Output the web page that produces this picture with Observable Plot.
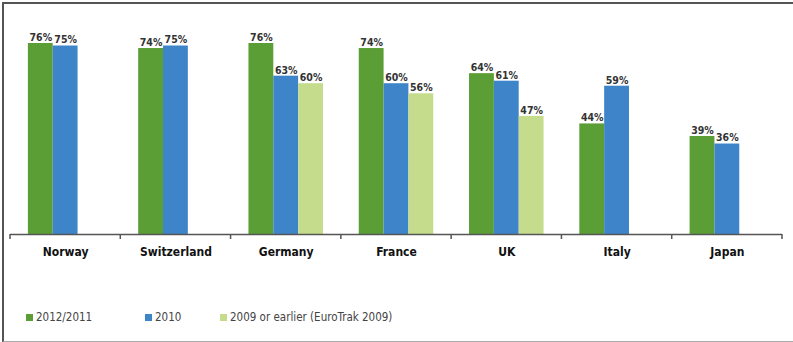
<!DOCTYPE html>
<html>
<head>
<meta charset="utf-8">
<script src="https://cdn.jsdelivr.net/npm/d3@7"></script>
<script src="https://cdn.jsdelivr.net/npm/@observablehq/plot@0.6"></script>
<style>
  html, body { margin: 0; padding: 0; background: #fff; }
  #wrap {
    position: relative; box-sizing: border-box;
    border-top: 2px solid #555; border-left: 2px solid #555; border-bottom: 1px solid #aaa;
    margin-top: 2px; margin-left: 2px; width: 791px; height: 340px;
    font-family: "Liberation Sans Narrow", "DejaVu Sans Condensed", "Arial Narrow", sans-serif;
  }
  #chart { position: absolute; left: -4px; top: -4px; }
  #legend { position: absolute; top: 306px; left: 0; font-size: 11.5px; color: #444; white-space: nowrap; }
  .item { position: absolute; display: flex; align-items: center; }
  .sw { width: 7px; height: 7px; margin-right: 3px; }
</style>
</head>
<body>
<div id="wrap"><div id="chart"></div><div id="legend"></div></div>
<script>
const countries = ["Norway", "Switzerland", "Germany", "France", "UK", "Italy", "Japan"];
const series = ["2012/2011", "2010", "2009 or earlier (EuroTrak 2009)"];
const v2012 = [76, 74, 76, 74, 64, 44, 39];
const v2010 = [75, 75, 63, 60, 61, 59, 36];
const v2009 = [null, null, 60, 56, 47, null, null];
const colors = ["#5b9e36", "#3d85c8", "#c4dc8b"];

const data = [];
[v2012, v2010, v2009].forEach((vals, si) => {
  vals.forEach((v, ci) => {
    if (v != null) data.push({country: countries[ci], series: series[si], value: v});
  });
});

const font = '"Liberation Sans Narrow", "DejaVu Sans Condensed", "Arial Narrow", sans-serif';

const plot = Plot.plot({
  width: 793,
  height: 270,
  marginLeft: 10,
  marginRight: 11,
  marginTop: 43,
  marginBottom: 36,
  fx: {domain: countries, paddingInner: 0, paddingOuter: 0, round: false, label: null},
  x: {domain: series, paddingInner: 0, paddingOuter: 0.72, round: false, axis: null},
  y: {domain: [0, 76], axis: null},
  color: {domain: series, range: colors},
  style: {fontFamily: font, overflow: "visible", background: "transparent"},
  marks: [
    Plot.barY(data, {fx: "country", x: "series", y: "value", fill: "series"}),
    Plot.text(data, {fx: "country", x: "series", y: "value", text: d => d.value + "%",
      dy: -6, fontWeight: "bold", fontSize: 10.5, fill: "#333"}),
    Plot.ruleY([0], {stroke: "#555", strokeWidth: 1.5}),
    Plot.axisFx({anchor: "bottom", tickSize: 0, tickPadding: 13, fontWeight: "bold",
      fontSize: 12, fill: "#111", label: null})
  ]
});
document.getElementById("chart").appendChild(plot);

// ticks at the group boundaries, from the library's scales
const fx = plot.scale("fx");
const y = plot.scale("y");
const y0 = y.apply(0);
const edges = countries.map(c => fx.apply(c)).concat([fx.apply(countries[countries.length - 1]) + fx.bandwidth]);
const g = d3.select(plot).append("g").attr("stroke", "#555").attr("stroke-width", 1.5);
edges.forEach(x => g.append("line").attr("x1", x).attr("x2", x).attr("y1", y0).attr("y2", y0 + 5));

// legend
const legend = d3.select("#legend");
const lx = [22, 141, 216];
series.forEach((s, i) => {
  const it = legend.append("div").attr("class", "item").style("left", lx[i] + "px");
  it.append("div").attr("class", "sw").style("background", colors[i]);
  it.append("span").text(s);
});
</script>
</body>
</html>
